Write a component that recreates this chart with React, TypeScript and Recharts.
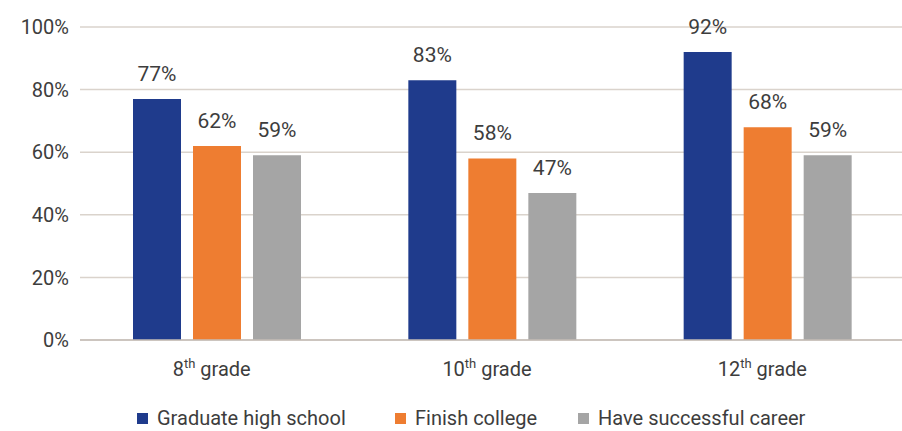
import React from 'react';
import { BarChart, Bar, XAxis, YAxis, CartesianGrid, Legend, LabelList } from 'recharts';

const grades = ['8', '10', '12'];
const graduateHighSchool = [77, 83, 92];
const finishCollege = [62, 58, 68];
const successfulCareer = [59, 47, 59];
const yTicks = [0, 20, 40, 60, 80, 100];

const series = [
  { key: 'graduate', name: 'Graduate high school', color: '#1f3b8c' },
  { key: 'college', name: 'Finish college', color: '#ee7d31' },
  { key: 'career', name: 'Have successful career', color: '#a5a5a5' },
];

const data = grades.map((g, i) => ({
  grade: g,
  graduate: graduateHighSchool[i],
  college: finishCollege[i],
  career: successfulCareer[i],
}));

const textColor = '#3d3d3d';
const font = 'Roboto, "Liberation Sans", sans-serif';
// legend slot widths so the items sit where the original ones do
const legendSlots = [258, 183, 240];

// grade label with superscript "th"
const GradeTick = (props: any) => {
  const { x, y, payload } = props;
  return (
    <text x={x - 6} y={y + 34} textAnchor="middle" fill={textColor} fontSize={20} fontFamily={font}>
      <tspan>{payload.value}</tspan>
      <tspan fontSize={13} dy={-8}>th</tspan>
      <tspan dy={8}> grade</tspan>
    </text>
  );
};

const renderLegend = () => (
  <div style={{ display: 'flex', alignItems: 'center', paddingLeft: 137, fontFamily: font, fontSize: 20, color: textColor }}>
    {series.map((s, i) => (
      <div key={s.key} style={{ display: 'flex', alignItems: 'center', width: legendSlots[i] }}>
        <span style={{ width: 11, height: 11, background: s.color, display: 'inline-block', marginRight: 9 }} />
        <span>{s.name}</span>
      </div>
    ))}
  </div>
);

export default function App() {
  return (
    <div style={{ position: 'absolute', left: 0, top: 0, width: 902, height: 431, overflow: 'hidden', background: '#fff' }}>
      <BarChart
        width={906}
        height={431}
        data={data}
        margin={{ top: 27, right: 0, bottom: 0, left: 0 }}
        barCategoryGap={53}
        barGap={12}
      >
        <CartesianGrid vertical={false} stroke="#dad3cc" strokeWidth={1.5} />
        <XAxis
          dataKey="grade"
          height={56}
          tickLine={false}
          tickSize={0}
          axisLine={{ stroke: '#c4bdb6', strokeWidth: 1.5 }}
          tick={<GradeTick />}
          interval={0}
        />
        <YAxis
          width={80}
          domain={[0, 100]}
          ticks={yTicks}
          axisLine={false}
          tickLine={false}
          tickSize={0}
          tickMargin={11}
          tickFormatter={(v) => `${v}%`}
          tick={{ fill: textColor, fontSize: 20, fontFamily: font }}
        />
        <Legend
          content={renderLegend}
          height={35}
          wrapperStyle={{ top: 406, left: 0, width: 906 }}
        />
        {series.map((s) => (
          <Bar key={s.key} dataKey={s.key} name={s.name} fill={s.color} isAnimationActive={false}>
            <LabelList
              dataKey={s.key}
              position="top"
              offset={18}
              formatter={(v: any) => `${v}%`}
              fill={textColor}
              fontSize={21}
              fontFamily={font}
            />
          </Bar>
        ))}
      </BarChart>
    </div>
  );
}
